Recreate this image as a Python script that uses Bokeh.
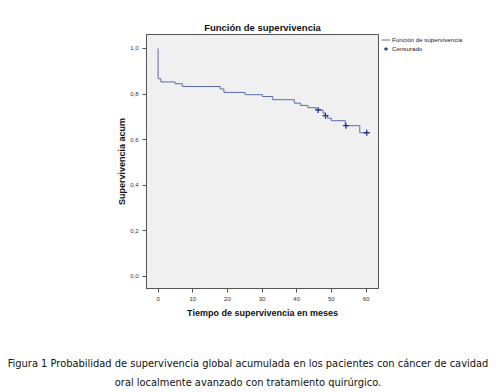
from bokeh.plotting import figure
from bokeh.models import Legend, LegendItem, Range1d, FixedTicker, CustomJSTickFormatter, Div
from bokeh.layouts import column, row
from bokeh.embed import file_html
from bokeh.resources import INLINE

# Kaplan-Meier estimates
event_times = [0, 0, 0.8, 4.9, 7.0, 17.9, 19.0, 25.1, 30.1, 33.1, 39.3, 41.1,
               43.2, 45.6, 47.6, 48.3, 48.9, 50.0, 54.0, 58.2]
survival = [1.0, 0.867, 0.853, 0.845, 0.833, 0.822, 0.807, 0.797, 0.789, 0.775,
            0.760, 0.750, 0.740, 0.730, 0.716, 0.705, 0.694, 0.683, 0.661, 0.630]
censor_times = [46.2, 48.3, 54.2, 60.2]
censor_surv = [0.730, 0.705, 0.661, 0.630]

x_ticks = [0, 10, 20, 30, 40, 50, 60]
y_ticks = [0.0, 0.2, 0.4, 0.6, 0.8, 1.0]

title_text = "Función de supervivencia"
x_label = "Tiempo de supervivencia en meses"
y_label = "Supervivencia acum"
legend_labels = ["Función de supervivencia", "Censurado"]
caption = ["Figura 1 Probabilidad de supervivencia global acumulada en los pacientes con cáncer de cavidad",
           "oral localmente avanzado con tratamiento quirúrgico."]

FONT = "Liberation Sans"
LINE_COL = "#5a6bb0"
CENS_COL = "#26358a"
AX_COL = "#555555"

# ---- main chart ----
p = figure(width=380, height=352, output_backend="svg", toolbar_location=None,
           x_range=Range1d(-3.34, 63.6), y_range=Range1d(-0.053, 1.061),
           min_border_left=146, min_border_right=2, min_border_top=34,
           min_border_bottom=64)
p.background_fill_color = "#f0f0f0"
p.border_fill_color = "white"
p.outline_line_color = AX_COL
p.grid.visible = False

p.title.text = title_text
p.title.align = "center"
p.title.text_font = FONT
p.title.text_font_style = "bold"
p.title.text_font_size = "9.5px"
p.title.text_color = "#111111"
p.title.standoff = 3

xs = event_times + [censor_times[-1]]
ys = survival + [survival[-1]]
p.step(xs, ys, mode="after", line_color=LINE_COL, line_width=1)
p.scatter(censor_times, censor_surv, marker="cross", size=6,
          line_color=CENS_COL, line_width=1.3)

for ax in (p.xaxis[0], p.yaxis[0]):
    ax.axis_line_color = AX_COL
    ax.major_tick_line_color = AX_COL
    ax.minor_tick_line_color = None
    ax.major_tick_in = 0
    ax.major_tick_out = 4
    ax.major_label_text_font = FONT
    ax.major_label_text_font_size = "6px"
    ax.major_label_text_color = "#333333"
    ax.axis_label_text_font = FONT
    ax.axis_label_text_font_style = "bold"
    ax.axis_label_text_font_size = "9px"
    ax.axis_label_text_color = "#111111"

p.xaxis[0].ticker = FixedTicker(ticks=x_ticks)
p.xaxis[0].major_label_standoff = 4
p.xaxis[0].axis_label = x_label
p.xaxis[0].axis_label_standoff = 4

p.yaxis[0].ticker = FixedTicker(ticks=y_ticks)
p.yaxis[0].formatter = CustomJSTickFormatter(code="return tick.toFixed(1).replace('.', ',');")
p.yaxis[0].major_label_standoff = 4
p.yaxis[0].axis_label = y_label
p.yaxis[0].axis_label_standoff = 0

# ---- legend panel (outside the plot box, as in the original) ----
lf = figure(width=116, height=352, output_backend="svg", toolbar_location=None,
            x_range=Range1d(0, 1), y_range=Range1d(0, 1),
            x_axis_type=None, y_axis_type=None,
            min_border_left=0, min_border_right=0, min_border_bottom=0,
            min_border_top=34)
lf.outline_line_color = None
lf.grid.visible = False
lf.background_fill_color = "white"
lr_line = lf.step([-5, -4], [-5, -5], mode="after", line_color=LINE_COL, line_width=1)
lr_cens = lf.scatter([-5], [-5], marker="cross", size=6, line_color=CENS_COL, line_width=1.3)
legend = Legend(items=[LegendItem(label=legend_labels[0], renderers=[lr_line]),
                       LegendItem(label=legend_labels[1], renderers=[lr_cens])],
                location="top_left", label_text_font=FONT, label_text_font_size="6.2px",
                label_text_color="#222222", glyph_width=9, glyph_height=9,
                label_height=9, label_standoff=2, spacing=0, padding=0, margin=1,
                border_line_alpha=0, background_fill_alpha=0)
lf.add_layout(legend)

# ---- caption ----
div = Div(text="<br>".join(caption), width=496, margin=(0, 0, 0, 0),
          styles={"font-family": "'DejaVu Sans'", "font-size": "9.9px",
                  "line-height": "19px", "text-align": "center", "color": "#111111",
                  "padding-top": "2px"})

layout = column(row(p, lf, spacing=0), div, spacing=0)
open("out.html", "w").write(file_html(layout, INLINE))
